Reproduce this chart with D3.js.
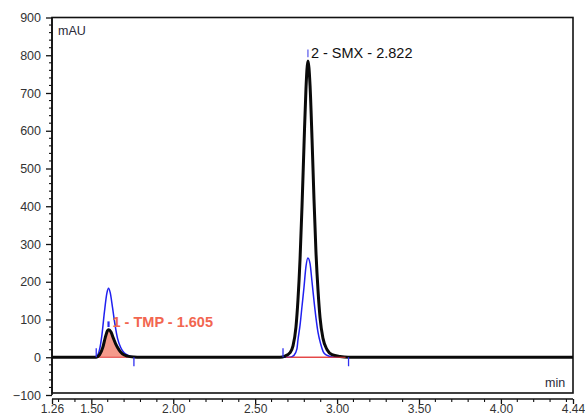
<!DOCTYPE html>
<html><head><meta charset="utf-8">
<script src="https://cdn.jsdelivr.net/npm/d3@7"></script>
<style>
html,body{margin:0;padding:0;background:#fff;}
svg{display:block;font-family:"Liberation Sans",Arial,sans-serif;}
</style></head>
<body><svg id="chart" width="585" height="416"></svg>
<script>
// ---- data ----
const xDomain = [1.26, 4.44];
const yDomain = [-100, 900];
const xTickLabels = [1.26, 1.50, 2.00, 2.50, 3.00, 3.50, 4.00, 4.44];
const xMinorTicks = [1.3,1.4,1.6,1.7,1.8,1.9,2.1,2.2,2.3,2.4,2.6,2.7,2.8,2.9,3.1,3.2,3.3,3.4,3.6,3.7,3.8,3.9,4.1,4.2,4.3,4.4];
const yTickLabels = [-100,0,100,200,300,400,500,600,700,800,900];

// black trace (detector signal) as [time, mAU]
const blackTMP = [[1.50,0],[1.53,0],[1.55,6],[1.57,26],[1.585,52],[1.60,71],[1.607,73],[1.62,67],[1.635,50],[1.65,34],[1.67,19],[1.69,9],[1.72,3],[1.76,0.5],[1.80,0]];
const blackSMX = [[2.60,0],[2.652,0],[2.682,3],[2.713,12],[2.731,30],[2.749,80],[2.761,150],[2.774,260],[2.786,400],[2.798,560],[2.810,710],[2.822,785],[2.835,720],[2.847,580],[2.859,420],[2.871,280],[2.884,175],[2.896,105],[2.914,50],[2.939,20],[2.969,7],[3.018,2],[3.067,0],[3.10,0]];
// blue trace as [time, mAU]
const blueTMP = [[1.50,0],[1.53,2],[1.55,20],[1.565,60],[1.58,120],[1.595,170],[1.605,183],[1.615,172],[1.63,130],[1.645,85],[1.66,50],[1.68,25],[1.70,12],[1.73,4],[1.76,1],[1.80,0]];
const blueSMX = [[2.68,0],[2.713,0],[2.737,5],[2.755,22],[2.761,45],[2.774,85],[2.786,135],[2.798,185],[2.810,240],[2.822,263],[2.835,248],[2.847,200],[2.859,150],[2.871,105],[2.884,65],[2.90,35],[2.915,15],[2.933,6],[2.969,1],[3.00,0]];

// integrated peaks
const peakNames = ["1 - TMP - 1.605", "2 - SMX - 2.822"];
const peakTimes = [1.605, 2.822];
const peakStart = [1.53, 2.67];
const peakEnd = [1.76, 3.07];

// ---- layout ----
const svg = d3.select("#chart");
const L = 52, R = 573, T = 17.5, B = 395;
const x = d3.scaleLinear().domain(xDomain).range([L, R]);
const y = d3.scaleLinear().domain(yDomain).range([B, T]);

const blackAll = [[xDomain[0],0], ...blackTMP, ...blackSMX, [xDomain[1],0]];
const blueAll = [[xDomain[0],0], ...blueTMP, ...blueSMX, [xDomain[1],0]];

const line = d3.line().x(d=>x(d[0])).y(d=>y(d[1])).curve(d3.curveMonotoneX);
const area = d3.area().x(d=>x(d[0])).y0(y(0)).y1(d=>y(d[1])).curve(d3.curveMonotoneX);

// plot frame
svg.append("rect").attr("x",L).attr("y",T).attr("width",R-L).attr("height",B-T-2)
  .attr("fill","none").attr("stroke","#111").attr("stroke-width",1.6);

// y axis (left, ticks outward)
const yMinor = d3.range(-100, 901, 20).filter(v => v % 100 !== 0);
const yAxisG = svg.append("g").attr("transform",`translate(${L},0)`);
yAxisG.call(d3.axisLeft(y).tickValues(yTickLabels).tickSize(6).tickPadding(5).tickFormat(d3.format("d")));
yAxisG.selectAll(".tick text").attr("font-size",12.5).attr("fill","#333").attr("font-family","Liberation Sans, Arial, sans-serif");
yAxisG.selectAll(".tick line").attr("stroke","#111").attr("stroke-width",1.3);
yAxisG.select(".domain").attr("stroke","#111").attr("stroke-width",1.6).attr("d",`M-0,${y(900)}V${y(-100)}`);
yAxisG.selectAll(".minor").data(yMinor).enter().append("line")
  .attr("x1",-3).attr("x2",0).attr("y1",d=>y(d)).attr("y2",d=>y(d)).attr("stroke","#111").attr("stroke-width",1.1);

// x axis (separate, below)
const xAxisY = 399;
const xAxisG = svg.append("g").attr("transform",`translate(0,${xAxisY})`);
xAxisG.call(d3.axisBottom(x).tickValues(xTickLabels).tickSize(5).tickPadding(0).tickFormat(d3.format(".2f")));
xAxisG.selectAll(".tick text").attr("font-size",12).attr("fill","#333").attr("font-family","Liberation Sans, Arial, sans-serif");
xAxisG.selectAll(".tick line").attr("stroke","#111").attr("stroke-width",1.3);
xAxisG.select(".domain").attr("stroke","#111").attr("stroke-width",1.3).attr("d",`M${L},0H${R}`);
xAxisG.selectAll(".minor").data(xMinorTicks).enter().append("line")
  .attr("x1",d=>x(d)).attr("x2",d=>x(d)).attr("y1",0).attr("y2",3).attr("stroke","#111").attr("stroke-width",1.1);

// unit labels
svg.append("text").attr("x",58).attr("y",35).attr("font-size",12.5).attr("fill","#2a2a3a").text("mAU");
svg.append("text").attr("x",545).attr("y",387).attr("font-size",12.5).attr("fill","#2a2a3a").text("min");

// filled peak 1
svg.append("path").datum(blackTMP.filter(d=>d[0]>=peakStart[0] && d[0]<=peakEnd[0]))
  .attr("d",area).attr("fill","#f59a8b").attr("stroke","none");

// red integration baselines
peakStart.forEach((s,i)=>{
  svg.append("line").attr("x1",x(s)).attr("x2",x(peakEnd[i])).attr("y1",y(0)).attr("y2",y(0))
    .attr("stroke","#e23b3b").attr("stroke-width",1.2);
});

// blue trace
svg.append("path").datum(blueAll).attr("d",line).attr("fill","none").attr("stroke","#2020f0").attr("stroke-width",1.5);
// black trace
svg.append("path").datum(blackAll).attr("d",line).attr("fill","none").attr("stroke","#0a0a0a").attr("stroke-width",3);

// red baseline redraw over black for the integrated peak region (thin)
svg.append("line").attr("x1",x(peakStart[1])+3).attr("x2",x(peakEnd[1])-3).attr("y1",y(0)).attr("y2",y(0))
  .attr("stroke","#e23b3b").attr("stroke-width",1.2);

// blue start/end markers
peakStart.forEach((s,i)=>{
  svg.append("line").attr("x1",x(s)).attr("x2",x(s)).attr("y1",y(0)).attr("y2",y(0)-9)
    .attr("stroke","#3030f0").attr("stroke-width",1.3);
  svg.append("line").attr("x1",x(peakEnd[i])).attr("x2",x(peakEnd[i])).attr("y1",y(0)).attr("y2",y(0)+9)
    .attr("stroke","#3030f0").attr("stroke-width",1.3);
});
// apex markers
svg.append("line").attr("x1",x(peakTimes[0])).attr("x2",x(peakTimes[0])).attr("y1",y(95)).attr("y2",y(80))
  .attr("stroke","#2a2af0").attr("stroke-width",2.2);
svg.append("line").attr("x1",x(peakTimes[1])).attr("x2",x(peakTimes[1])).attr("y1",y(815)).attr("y2",y(795))
  .attr("stroke","#8080f0").attr("stroke-width",1.6);

// peak labels
svg.append("text").attr("x",x(peakTimes[0])+4).attr("y",y(80)).attr("font-size",14.5).attr("font-weight","bold")
  .attr("fill","#f26650").text(peakNames[0]);
svg.append("text").attr("x",x(peakTimes[1])+3).attr("y",y(794)).attr("font-size",14.5)
  .attr("fill","#111").text(peakNames[1]);
</script></body></html>
